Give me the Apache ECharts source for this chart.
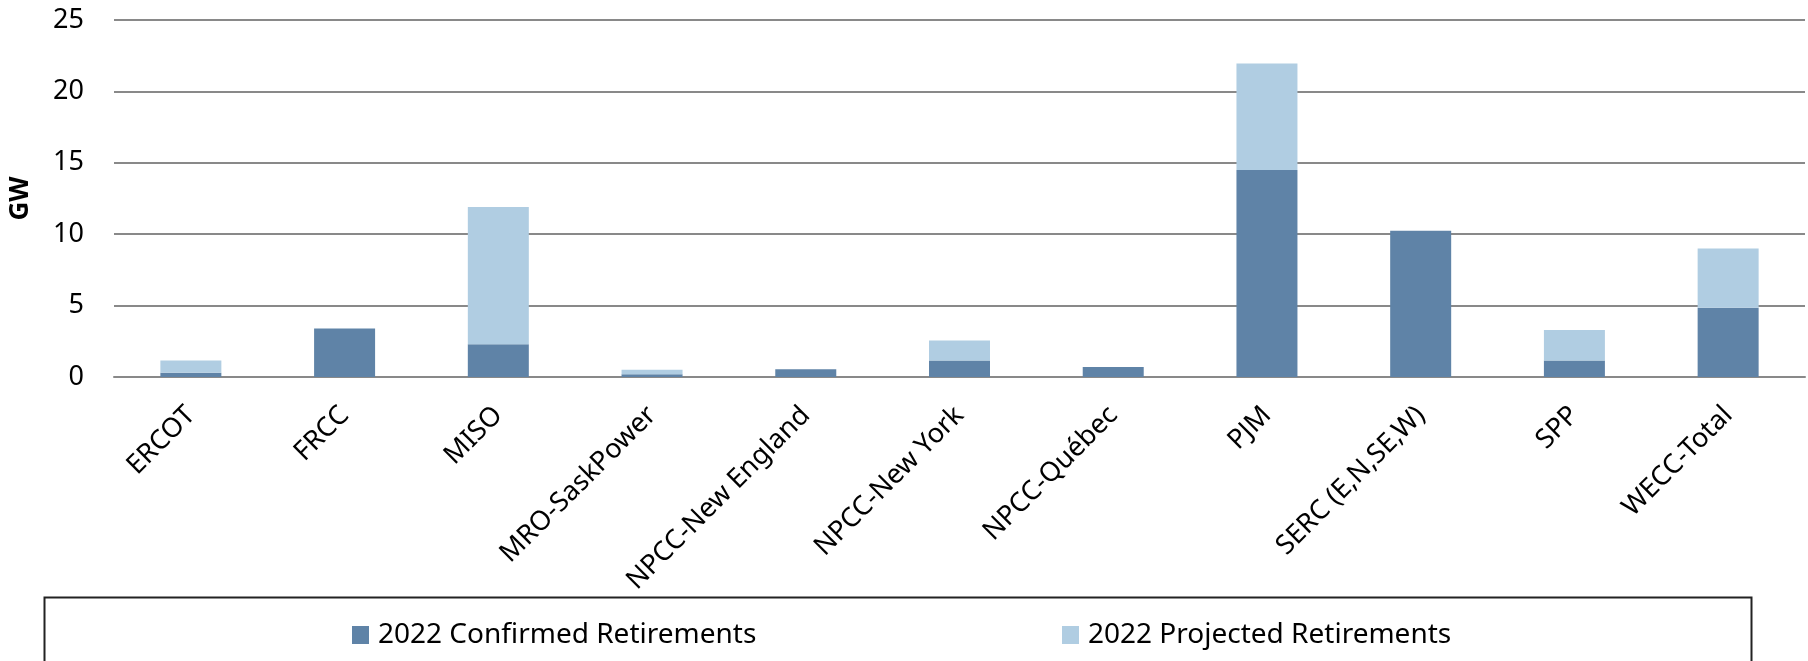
<!DOCTYPE html>
<html>
<head>
<meta charset="utf-8">
<title>2022 Retirements</title>
<script src="https://cdn.jsdelivr.net/npm/echarts@6/dist/echarts.min.js"></script>
<style>
  html, body { margin: 0; padding: 0; background: #fff; }
  #chart { width: 1808px; height: 661px; }
</style>
</head>
<body>
<div id="chart"></div>
<script>
// data
const regions = ['ERCOT', 'FRCC', 'MISO', 'MRO-SaskPower', 'NPCC-New England', 'NPCC-New York',
  'NPCC-Québec', 'PJM', 'SERC (E,N,SE,W)', 'SPP', 'WECC-Total']
const confirmed = [0.3, 3.4, 2.3, 0.2, 0.55, 1.15, 0.7, 14.5, 10.25, 1.15, 4.85]
const projected = [0.85, 0, 9.6, 0.3, 0, 1.4, 0, 7.45, 0, 2.15, 4.15]
const yTicks = [0, 5, 10, 15, 20, 25]
const seriesNames = ['2022 Confirmed Retirements', '2022 Projected Retirements']

const colors = ['#5f83a7', '#b0cde2']
const font = 'Noto Sans'

const myChart = echarts.init(document.getElementById('chart'))

const legendText = { fontFamily: font, fontSize: 28, color: '#000', padding: [0, 0, 0, 4] }

const option = {
  animation: false,
  color: colors,
  textStyle: { fontFamily: font, color: '#000' },
  grid: { left: 110, right: 3, top: 20, bottom: 284 },
  legend: [
    {
      data: [seriesNames[0]],
      left: 352, top: 621, padding: 0,
      itemWidth: 17, itemHeight: 18, icon: 'rect',
      textStyle: legendText
    },
    {
      data: [seriesNames[1]],
      left: 1062, top: 621, padding: 0,
      itemWidth: 17, itemHeight: 18, icon: 'rect',
      textStyle: legendText
    }
  ],
  graphic: [
    {
      type: 'rect',
      left: 42, top: 595,
      shape: { width: 1707, height: 100 },
      style: { fill: 'none', stroke: '#222', lineWidth: 2 },
      silent: true
    }
  ],
  xAxis: {
    type: 'category',
    data: regions,
    axisLine: { lineStyle: { color: '#898989', width: 2 } },
    axisTick: { length: 10, lineStyle: { color: '#898989', width: 2 } },
    axisLabel: {
      interval: 0,
      rotate: 45,
      margin: 34,
      fontFamily: font,
      fontSize: 27,
      color: '#000'
    }
  },
  yAxis: {
    type: 'value',
    min: 0,
    max: yTicks[yTicks.length - 1],
    interval: 5,
    name: 'GW',
    nameLocation: 'middle',
    nameGap: 80,
    nameRotate: 90,
    nameTextStyle: { fontFamily: font, fontSize: 26, fontWeight: 'bold', color: '#000' },
    axisLine: { show: false },
    axisTick: { show: false },
    axisLabel: { margin: 30, fontFamily: font, fontSize: 27, color: '#000' },
    splitLine: { lineStyle: { color: '#898989', width: 2 } }
  },
  series: [
    {
      name: seriesNames[0],
      type: 'bar',
      stack: 'total',
      barWidth: 61,
      data: confirmed,
      itemStyle: { color: colors[0] }
    },
    {
      name: seriesNames[1],
      type: 'bar',
      stack: 'total',
      barWidth: 61,
      data: projected,
      itemStyle: { color: colors[1] }
    }
  ]
}

myChart.setOption(option)
</script>
</body>
</html>
